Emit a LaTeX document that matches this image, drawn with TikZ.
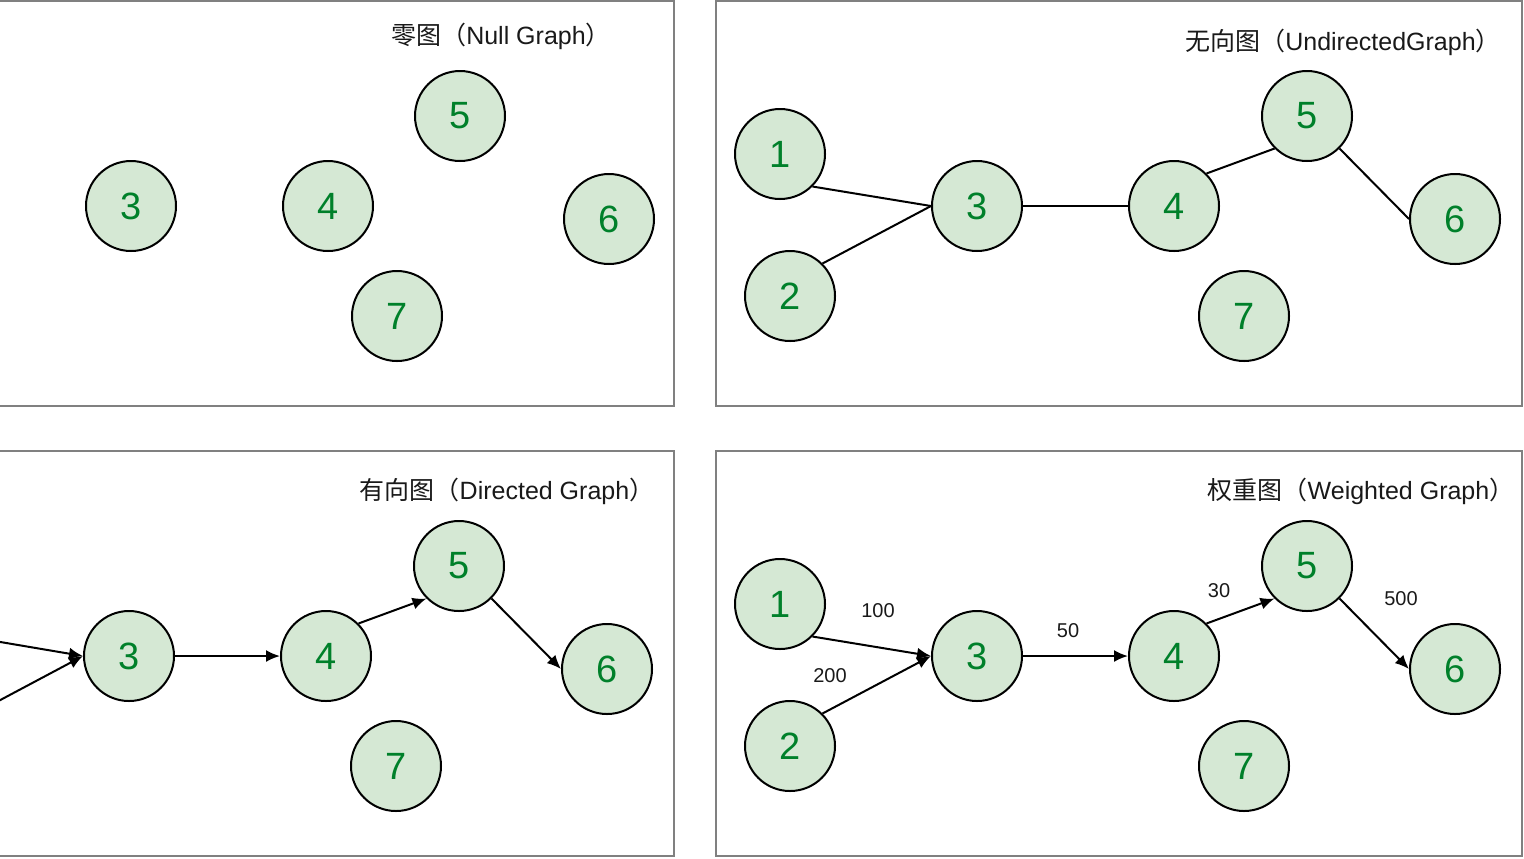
\documentclass[tikz,border=0pt]{standalone}
\usepackage{fontspec}
\setmainfont{Liberation Sans}
\newfontfamily\cjk{Noto Sans CJK SC}
\usetikzlibrary{arrows.meta}
\definecolor{nodefill}{HTML}{D5E8D4}
\definecolor{numgreen}{HTML}{00802A}
\definecolor{framegray}{HTML}{808080}
\tikzset{
  vtx/.style={circle, draw=black, line width=1pt, fill=nodefill, minimum size=45pt, inner sep=0pt, text=numgreen, font=\fontsize{19}{19}\selectfont},
  panel/.style={draw=framegray, line width=1pt},
  ttl/.style={font=\fontsize{12.5}{13}\selectfont, text=black!90, inner sep=0pt},
  lbl/.style={font=\fontsize{10}{10}\selectfont, text=black!90, inner sep=0pt},
  edge/.style={line width=1pt, draw=black},
  arr/.style={edge, -{Latex[length=7pt,width=6pt]}}
}
\begin{document}
\begin{tikzpicture}[x=0.5pt, y=-0.5pt]
\useasboundingbox (0,0) rectangle (1524,858);
\clip (0,0) rectangle (1524,858);
% panels
\draw[panel] (-20,1) rectangle (674,406);
\draw[panel] (716,1) rectangle (1522,406);
\draw[panel] (-20,451) rectangle (674,856);
\draw[panel] (716,451) rectangle (1522,856);
% titles
\node[ttl] (t1) at (501,36) {{\cjk 零图（}Null Graph{\cjk ）}};
\node[ttl] (t2) at (1343,42) {{\cjk 无向图（}UndirectedGraph{\cjk ）}};
\node[ttl] (t3) at (507,491) {{\cjk 有向图（}Directed Graph{\cjk ）}};
\node[ttl] (t4) at (1361,491) {{\cjk 权重图（}Weighted Graph{\cjk ）}};
% null graph
\node[vtx] (a3) at (131,206) {3};
\node[vtx] (a4) at (328,206) {4};
\node[vtx] (a5) at (460,116) {5};
\node[vtx] (a6) at (609,219) {6};
\node[vtx] (a7) at (397,316) {7};
% undirected graph
\node[vtx] (b1) at (780,154) {1};
\node[vtx] (b2) at (790,296) {2};
\node[vtx] (b3) at (977,206) {3};
\node[vtx] (b4) at (1174,206) {4};
\node[vtx] (b5) at (1307,116) {5};
\node[vtx] (b6) at (1455,219) {6};
\node[vtx] (b7) at (1244,316) {7};
\draw[edge] (b1.south east) -- (b3.west);
\draw[edge] (b2.north east) -- (b3.west);
\draw[edge] (b3.east) -- (b4.west);
\draw[edge] (b4.north east) -- (b5.south west);
\draw[edge] (b5.south east) -- (b6.west);
% directed graph
\coordinate (c1) at (-35,636);
\coordinate (c2) at (-26,714);
\node[vtx] (c3) at (129,656) {3};
\node[vtx] (c4) at (326,656) {4};
\node[vtx] (c5) at (459,566) {5};
\node[vtx] (c6) at (607,669) {6};
\node[vtx] (c7) at (396,766) {7};
\draw[arr] (c1) -- (c3.west);
\draw[arr] (c2) -- (c3.west);
\draw[arr] (c3.east) -- (c4.west);
\draw[arr] (c4.north east) -- (c5.south west);
\draw[arr] (c5.south east) -- (c6.west);
% weighted graph
\node[vtx] (d1) at (780,604) {1};
\node[vtx] (d2) at (790,746) {2};
\node[vtx] (d3) at (977,656) {3};
\node[vtx] (d4) at (1174,656) {4};
\node[vtx] (d5) at (1307,566) {5};
\node[vtx] (d6) at (1455,669) {6};
\node[vtx] (d7) at (1244,766) {7};
\draw[arr] (d1.south east) -- (d3.west);
\draw[arr] (d2.north east) -- (d3.west);
\draw[arr] (d3.east) -- (d4.west);
\draw[arr] (d4.north east) -- (d5.south west);
\draw[arr] (d5.south east) -- (d6.west);
\node[lbl] (w13) at (878,611) {100};
\node[lbl] (w23) at (830,676) {200};
\node[lbl] (w34) at (1068,631) {50};
\node[lbl] (w45) at (1219,591) {30};
\node[lbl] (w56) at (1401,599) {500};
\end{tikzpicture}
\end{document}
